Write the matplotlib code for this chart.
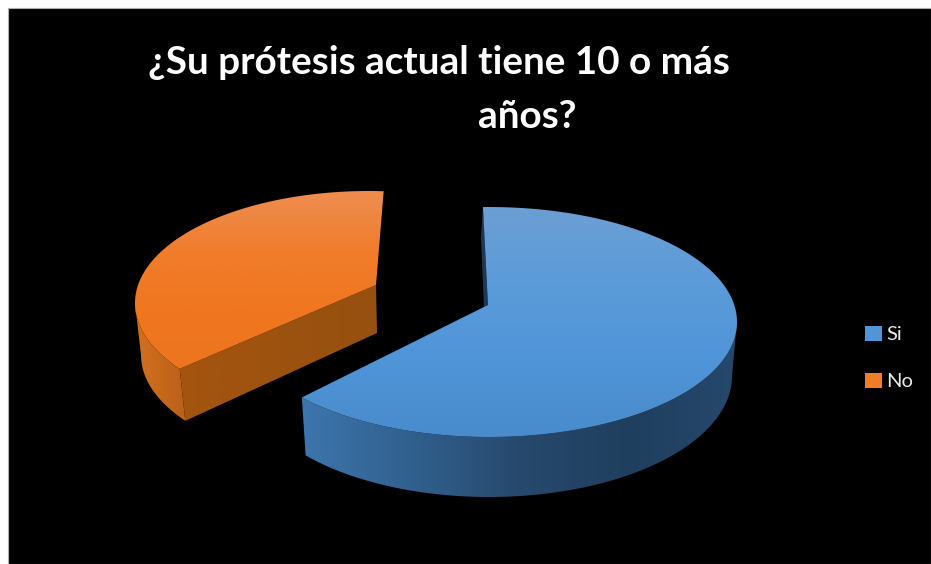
#!/usr/bin/env python
"""Exploded 3D-look pie chart on a black panel."""

import matplotlib

matplotlib.use("Agg")
import matplotlib.pyplot as plt
import numpy as np
from matplotlib.colors import LinearSegmentedColormap
from matplotlib.patches import Patch, Polygon, Rectangle

CATEGORIES = ["Si", "No"]
VALUES = [64, 36]
TITLE_LINES = ["¿Su prótesis actual tiene 10 o más", "años?"]

# ellipse geometry in pixels: cx, cy, a, b
SI_TOP = (489, 322, 248, 115)
SI_BOTTOM = (489, 376, 243, 121)
SI_APEX = (488, 305)
SI_START = 91.4
NO_TOP = (369, 303, 234, 112)
NO_BOTTOM = (373, 355, 232, 112)
NO_APEX = (376, 285)
NO_APEX_BOTTOM = (377, 333)
NO_START = 86.4


def arc(ellipse, t0, t1, n=200):
    cx, cy, a, b = ellipse
    t = np.radians(np.linspace(t0, t1, n))
    return np.column_stack([cx + a * np.cos(t), cy - b * np.sin(t)])


def gradient_fill(ax, verts, stops, zorder, horizontal=False):
    patch = Polygon(verts, closed=True, facecolor="none", edgecolor="none")
    ax.add_patch(patch)
    x0, y0 = verts.min(axis=0)
    x1, y1 = verts.max(axis=0)
    cmap = LinearSegmentedColormap.from_list("g", stops)
    ramp = np.linspace(0, 1, 256)
    ramp = ramp[None, :] if horizontal else ramp[:, None]
    im = ax.imshow(ramp, cmap=cmap, extent=(x0, x1, y1, y0), aspect="auto", origin="upper", interpolation="bilinear", zorder=zorder)
    im.set_clip_path(patch)


fig = plt.figure(figsize=(9.31, 5.64), dpi=100, facecolor="white")
ax = fig.add_axes([0, 0, 1, 1])
ax.set_axis_off()
ax.add_patch(Rectangle((8, 8), 923, 556, facecolor="black", edgecolor="#b0b0b0", linewidth=0.8, zorder=0))

si_sweep = 360 * VALUES[0] / sum(VALUES)
no_sweep = 360 * VALUES[1] / sum(VALUES)
si_end = SI_START - si_sweep
no_end = NO_START + no_sweep

# orange slice
no_side_outer = np.vstack([arc(NO_TOP, 180, no_end), arc(NO_BOTTOM, no_end, 180)])
gradient_fill(ax, no_side_outer, ["#d4701e", "#b9611a"], 1, horizontal=True)
corner_top = arc(NO_TOP, no_end, no_end, 1)
corner_bottom = arc(NO_BOTTOM, no_end, no_end, 1)
no_wall = np.vstack([corner_top, [NO_APEX], [NO_APEX_BOTTOM], corner_bottom])
gradient_fill(ax, no_wall, ["#a4550f", "#96500f"], 2, horizontal=True)
no_face = np.vstack([arc(NO_TOP, NO_START, no_end), [NO_APEX]])
gradient_fill(ax, no_face, ["#ee8d50", "#f07d2c", "#f0761f", "#ee7520"], 3)

# blue slice
si_side = np.vstack([arc(SI_TOP, 0, si_end), arc(SI_BOTTOM, si_end, 0)])
gradient_fill(ax, si_side, ["#3d76ad", "#31608e", "#27496d", "#1f3f5e", "#26486c"], 4, horizontal=True)
si_start_pt = arc(SI_TOP, SI_START, SI_START, 1)[0]
si_wall = np.array([si_start_pt, SI_APEX, (SI_APEX[0] - 4, SI_APEX[1] + 2), (si_start_pt[0] - 2, si_start_pt[1] + 30)])
ax.add_patch(Polygon(si_wall, closed=True, facecolor="#1d3850", edgecolor="none", zorder=5))
si_face = np.vstack([arc(SI_TOP, SI_START, si_end), [SI_APEX]])
gradient_fill(ax, si_face, ["#6c9fd3", "#5b9bd9", "#5095d8", "#498bcb"], 6)

ax.text(439, 63, TITLE_LINES[0], color="white", fontsize=27.9, fontweight="bold", family="Lato", ha="center", va="center", zorder=7)
ax.text(527, 117, TITLE_LINES[1], color="white", fontsize=27.9, fontweight="bold", family="Lato", ha="center", va="center", zorder=7)

handles = [Patch(facecolor="#5295d6", label=CATEGORIES[0]), Patch(facecolor="#ee7d27", label=CATEGORIES[1])]
leg = ax.legend(
    handles=handles,
    loc="center left",
    bbox_to_anchor=(865, 358),
    bbox_transform=ax.transData,
    frameon=False,
    labelcolor="#e8e8e8",
    handlelength=0.85,
    handleheight=0.8,
    handletextpad=0.2,
    labelspacing=1.45,
    borderpad=0,
    borderaxespad=0,
    prop={"family": "Lato", "size": 14.5},
)
leg.set_zorder(8)

ax.set_xlim(0, 931)
ax.set_ylim(564, 0)
fig.savefig("out.png", dpi=100, facecolor="white")
